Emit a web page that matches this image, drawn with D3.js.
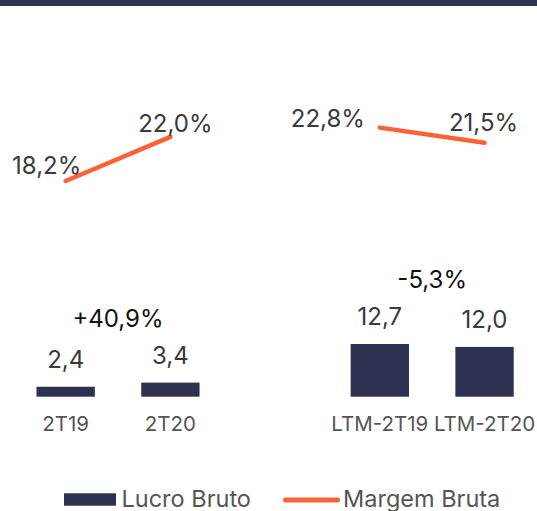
<!DOCTYPE html>
<html>
<head>
<meta charset="utf-8">
<script src="https://cdn.jsdelivr.net/npm/d3@7"></script>
<style>
  html, body { margin: 0; padding: 0; background: #fff; }
  svg { display: block; font-family: Inter, "Noto Sans", sans-serif; }
</style>
</head>
<body>
<svg id="chart" width="537" height="511"></svg>
<script>
// categories (empty slot keeps the gap between the two groups)
const categories = ["2T19", "2T20", "", "LTM-2T19", "LTM-2T20"]
const groups = [["2T19", "2T20"], ["LTM-2T19", "LTM-2T20"]]
// Lucro Bruto (R$ bi)
const lucroBruto = [2.4, 3.4, null, 12.7, 12.0]
const lucroLabels = ["2,4", "3,4", "", "12,7", "12,0"]
// Margem Bruta (%)
const margemBruta = [18.2, 22.0, null, 22.8, 21.5]
const margemLabels = ["18,2%", "22,0%", "", "22,8%", "21,5%"]
// growth per group
const growthLabels = ["+40,9%", "-5,3%"]
const legendLabels = ["Lucro Bruto", "Margem Bruta"]

const navy = "#2e3250"
const orange = "#ff6136"

const svg = d3.select("#chart")

// dark strip on top
svg.append("rect").attr("x", 0).attr("y", 0).attr("width", 537).attr("height", 6).attr("fill", navy)

const data = categories.map((c, i) => ({
  cat: c,
  value: lucroBruto[i],
  valueLabel: lucroLabels[i],
  margin: margemBruta[i],
  marginLabel: margemLabels[i]
})).filter((d) => d.value !== null)

// scales
const xScale = d3.scaleBand()
  .domain(categories)
  .range([13.3, 536.9])
  .paddingInner(0.443)
  .paddingOuter(0.2215)
const xCenter = (c) => xScale(c) + xScale.bandwidth() / 2

const yBar = d3.scaleLinear().domain([0, 20]).range([396.7, 313.7])
const yLine = d3.scaleLinear().domain([18, 23]).range([183.3, 125.3])

// bars
svg.selectAll(".bar")
  .data(data)
  .join("rect")
  .attr("class", "bar")
  .attr("x", (d) => xScale(d.cat))
  .attr("y", (d) => yBar(d.value))
  .attr("width", xScale.bandwidth())
  .attr("height", (d) => yBar(0) - yBar(d.value))
  .attr("fill", navy)

// bar value labels
svg.selectAll(".barLabel")
  .data(data)
  .join("text")
  .attr("class", "barLabel")
  .attr("x", (d) => xCenter(d.cat))
  .attr("y", (d) => yBar(d.value) - 18.5)
  .attr("text-anchor", "middle")
  .attr("font-size", 24)
  .attr("fill", "#3a3a3a")
  .text((d) => d.valueLabel)

// growth labels over each group
groups.forEach((g, gi) => {
  const gd = data.filter((d) => g.includes(d.cat))
  const top = d3.min(gd, (d) => yBar(d.value))
  svg.append("text")
    .attr("x", d3.mean(g, xCenter))
    .attr("y", top - 56)
    .attr("text-anchor", "middle")
    .attr("font-size", 24)
    .attr("fill", "#111")
    .text(growthLabels[gi])
})

// x axis labels
const xAxis = d3.axisBottom(xScale).tickSize(0).tickPadding(0)
  .tickValues(categories.filter((c) => c !== ""))
const axisG = svg.append("g").attr("transform", "translate(0, 431)").call(xAxis)
axisG.select(".domain").remove()
axisG.selectAll("text")
  .attr("font-family", "Inter, 'Noto Sans', sans-serif")
  .attr("font-size", 20.5)
  .attr("fill", "#555")
  .attr("y", 0)
  .attr("dy", 0)

// margin lines, one segment per group
const line = d3.line().x((d) => xCenter(d.cat)).y((d) => yLine(d.margin))
groups.forEach((g) => {
  svg.append("path")
    .datum(data.filter((d) => g.includes(d.cat)))
    .attr("d", line)
    .attr("fill", "none")
    .attr("stroke", orange)
    .attr("stroke-width", 4.5)
    .attr("stroke-linecap", "round")
})

// margin labels, hand-placed around each point like the original
const marginOffset = {
  "2T19": [-19, -7],
  "2T20": [5, -5],
  "LTM-2T19": [-52, -1],
  "LTM-2T20": [-1, -11.5]
}
svg.selectAll(".marginLabel")
  .data(data)
  .join("text")
  .attr("class", "marginLabel")
  .attr("x", (d) => xCenter(d.cat) + marginOffset[d.cat][0])
  .attr("y", (d) => yLine(d.margin) + marginOffset[d.cat][1])
  .attr("text-anchor", "middle")
  .attr("font-size", 24)
  .attr("fill", "#3a3a3a")
  .text((d) => d.marginLabel)

// legend
const legend = svg.append("g")
legend.append("rect").attr("x", 64).attr("y", 493.3).attr("width", 52).attr("height", 12.4).attr("fill", navy)
legend.append("text").attr("x", 121.5).attr("y", 507).attr("font-size", 23.5).attr("fill", "#555").text(legendLabels[0])
legend.append("line").attr("x1", 285.5).attr("x2", 337.5).attr("y1", 500).attr("y2", 500)
  .attr("stroke", orange).attr("stroke-width", 5).attr("stroke-linecap", "round")
legend.append("text").attr("x", 343).attr("y", 507).attr("font-size", 23.5).attr("fill", "#555").text(legendLabels[1])
</script>
</body>
</html>
